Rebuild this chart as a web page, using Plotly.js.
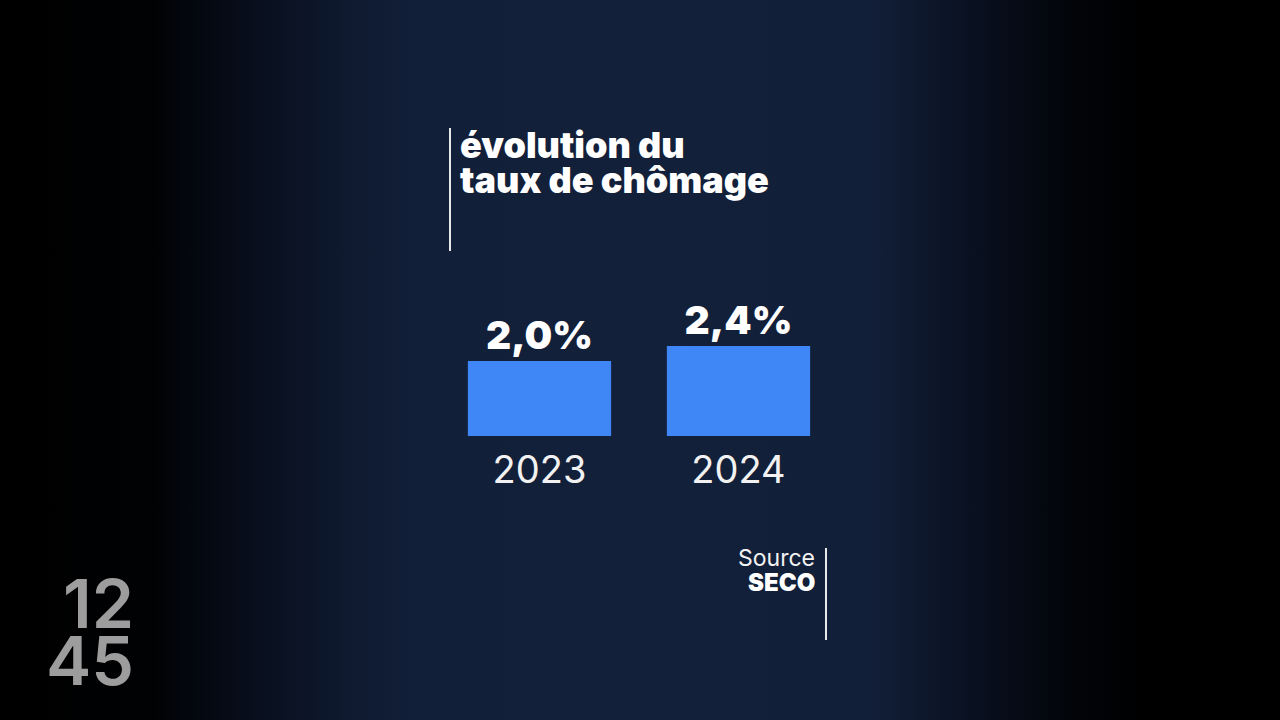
<!DOCTYPE html>
<html>
<head>
<meta charset="utf-8">
<script src="https://cdn.plot.ly/plotly-3.0.1.min.js"></script>
<style>
html,body{margin:0;padding:0;width:1280px;height:720px;overflow:hidden;
background:linear-gradient(to right,#000 0%,#010204 12%,#070d1a 19%,#0e182d 26%,#121f38 32%,#13203a 50%,#121f38 68%,#0e182d 72%,#070d1a 78%,#020408 84%,#000 90%,#000 100%);}
#chart{width:1280px;height:720px;}
</style>
</head>
<body>
<div id="chart"></div>
<script>
const years = ['2023', '2024'];
const rates = [2.0, 2.4];
const titleLines = ['évolution du', 'taux de chômage'];
const sourceLabel = 'Source';
const sourceName = 'SECO';
const logoLines = ['12', '45'];

// plot area geometry (pixels)
const L = 440, R = 838, T = 286, B = 436;
const px = x => (x - L) / (R - L);
const py = y => (B - y) / (B - T);

const trace = {
  type: 'bar',
  x: years,
  y: rates,
  marker: {color: '#3f87f6', line: {width: 0}},
  texttemplate: '%{y:.1f}%',
  textposition: 'outside',
  cliponaxis: false,
  textfont: {family: 'Inter, sans-serif', size: 39, weight: 900, color: '#ffffff'},
  hoverinfo: 'skip'
};

const titleFont = {family: 'Inter, sans-serif', size: 36, weight: 900, color: '#ffffff'};
const logoFont = {family: 'Inter, sans-serif', size: 68, weight: 600, color: '#9d9d9d'};

const layout = {
  width: 1280, height: 720,
  paper_bgcolor: 'rgba(0,0,0,0)',
  plot_bgcolor: 'rgba(0,0,0,0)',
  separators: ',.',
  showlegend: false,
  bargap: 0.28,
  margin: {l: L, r: 1280 - R, t: T, b: 720 - B, pad: 0},
  xaxis: {
    type: 'category', showgrid: false, zeroline: false, showline: false,
    ticks: '', ticklabelstandoff: 8,
    tickfont: {family: 'Inter, sans-serif', size: 38, color: '#f2f2f2'}
  },
  yaxis: {range: [0, 4], visible: false, showgrid: false, zeroline: false},
  shapes: [
    {type: 'line', xref: 'paper', yref: 'paper', x0: px(450), x1: px(450), y0: py(128), y1: py(251),
     line: {color: '#e8e8e8', width: 2}},
    {type: 'line', xref: 'paper', yref: 'paper', x0: px(826), x1: px(826), y0: py(548), y1: py(640),
     line: {color: '#e8e8e8', width: 2}}
  ],
  annotations: [
    {text: titleLines[0], xref: 'paper', yref: 'paper', x: px(458), y: py(121), xanchor: 'left', yanchor: 'top',
     align: 'left', showarrow: false, font: titleFont},
    {text: titleLines[1], xref: 'paper', yref: 'paper', x: px(458), y: py(156), xanchor: 'left', yanchor: 'top',
     align: 'left', showarrow: false, font: titleFont},
    {text: sourceLabel, xref: 'paper', yref: 'paper', x: px(817), y: py(542), xanchor: 'right', yanchor: 'top',
     align: 'right', showarrow: false,
     font: {family: 'Inter, sans-serif', size: 23, color: '#f2f2f2'}},
    {text: sourceName, xref: 'paper', yref: 'paper', x: px(817), y: py(566), xanchor: 'right', yanchor: 'top',
     align: 'right', showarrow: false,
     font: {family: 'Inter, sans-serif', size: 24, weight: 900, color: '#ffffff'}},
    {text: logoLines[0], xref: 'paper', yref: 'paper', x: px(136), y: py(560), xanchor: 'right', yanchor: 'top',
     align: 'right', showarrow: false, font: logoFont},
    {text: logoLines[1], xref: 'paper', yref: 'paper', x: px(136), y: py(617), xanchor: 'right', yanchor: 'top',
     align: 'right', showarrow: false, font: logoFont}
  ]
};

Plotly.newPlot('chart', [trace], layout, {staticPlot: true, displayModeBar: false});
</script>
</body>
</html>
